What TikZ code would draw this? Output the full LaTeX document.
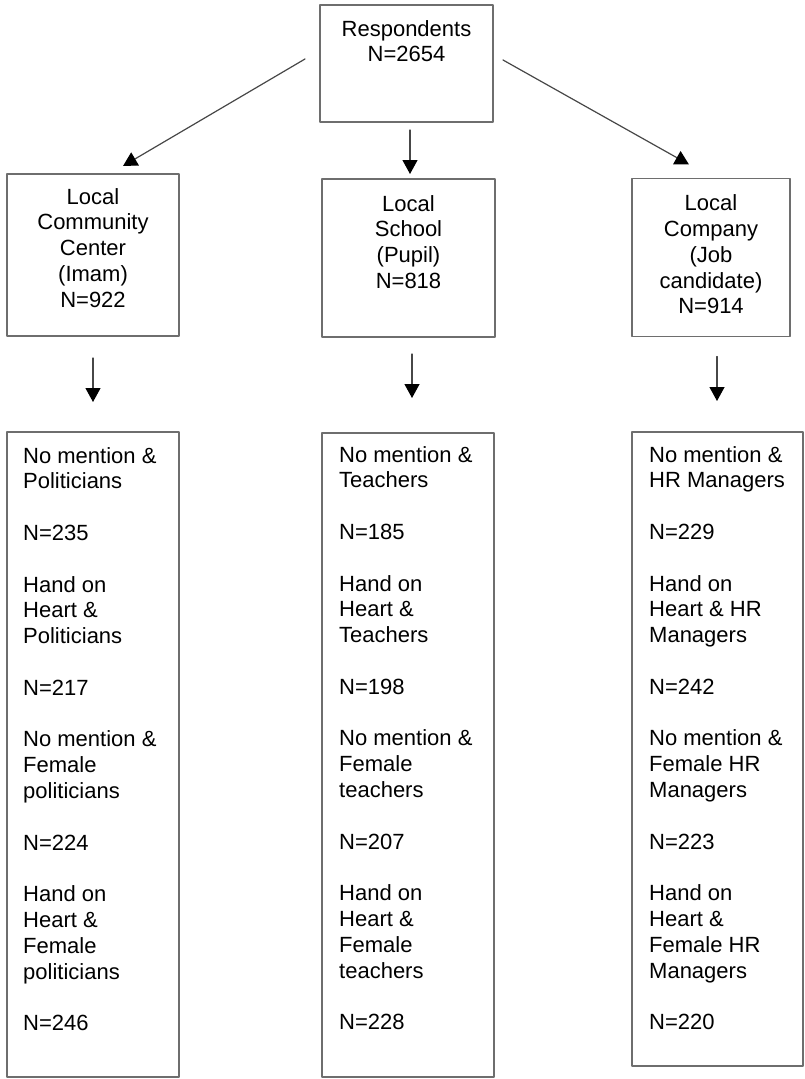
\documentclass[tikz,border=0pt]{standalone}
\usepackage{fontspec}
\setmainfont{Liberation Sans}
\usetikzlibrary{arrows.meta}
\definecolor{boxgray}{HTML}{6E6E6E}
\definecolor{arrgray}{HTML}{474747}

\begin{document}
\begin{tikzpicture}[x=1pt, y=-1pt, line cap=round, line join=round,
    box/.style={draw=boxgray, line width=1.4pt, inner sep=0pt, outer sep=0pt},
    txt/.style={inner sep=0pt, font=\fontsize{22}{25.8}\selectfont, text=black},
    arr/.style={draw=arrgray, line width=1.2pt, -{Triangle[width=15pt, length=14pt, black]}}]

    \useasboundingbox (0,0) rectangle (805,1079);

    % top box
    \node[box, minimum width=173, minimum height=117] (resp) at (406.5, 63.5) {};
    \node[txt, anchor=north, align=center] (resptxt) at ([yshift=-15]resp.north) {Respondents\\N=2654};

    % settings
    \node[box, minimum width=172, minimum height=162] (commA) at (93, 255) {};
    \node[box, minimum width=173, minimum height=158] (schA) at (408.5, 258) {};
    \node[box, minimum width=158, minimum height=158] (compA) at (711, 257.5) {};

    \node[txt, anchor=north, align=center] (commtxt) at ([yshift=-14]commA.north) {Local\\Community\\Center\\(Imam)\\N=922};
    \node[txt, anchor=north, align=center] (schtxt) at ([yshift=-16]schA.north) {Local\\School\\(Pupil)\\N=818};
    \node[txt, anchor=north, align=center] (comptxt) at ([yshift=-16]compA.north) {Local\\Company\\(Job\\candidate)\\N=914};

    % conditions
    \node[box, minimum width=172, minimum height=645] (polB) at (93, 754.5) {};
    \node[box, minimum width=172, minimum height=644] (teachB) at (408, 755) {};
    \node[box, minimum width=171, minimum height=634] (hrB) at (717.5, 749) {};

    \node[txt, anchor=north west, align=left] (poltxt) at ([xshift=16, yshift=-15]polB.north west)
        {No mention \&\\Politicians\\[25.8pt]N=235\\[25.8pt]Hand on\\Heart \&\\Politicians\\[25.8pt]N=217\\[25.8pt]%
         No mention \&\\Female\\politicians\\[25.8pt]N=224\\[25.8pt]Hand on\\Heart \&\\Female\\politicians\\[25.8pt]N=246};
    \node[txt, anchor=north west, align=left] (teachtxt) at ([xshift=17, yshift=-13]teachB.north west)
        {No mention \&\\Teachers\\[25.8pt]N=185\\[25.8pt]Hand on\\Heart \&\\Teachers\\[25.8pt]N=198\\[25.8pt]%
         No mention \&\\Female\\teachers\\[25.8pt]N=207\\[25.8pt]Hand on\\Heart \&\\Female\\teachers\\[25.8pt]N=228};
    \node[txt, anchor=north west, align=left] (hrtxt) at ([xshift=17, yshift=-14]hrB.north west)
        {No mention \&\\HR Managers\\[25.8pt]N=229\\[25.8pt]Hand on\\Heart \& HR\\Managers\\[25.8pt]N=242\\[25.8pt]%
         No mention \&\\Female HR\\Managers\\[25.8pt]N=223\\[25.8pt]Hand on\\Heart \&\\Female HR\\Managers\\[25.8pt]N=220};

    % arrows
    \draw[arr] ([xshift=-15, yshift=4.5]resp.west) -- ([xshift=30, yshift=8]commA.north);
    \draw[arr] ([xshift=3.5, yshift=-8]resp.south) -- ([xshift=1.5, yshift=5]schA.north);
    \draw[arr] ([xshift=10, yshift=3.5]resp.east) -- ([xshift=-22, yshift=14]compA.north);

    \draw[arr] ([yshift=-22]commA.south) -- ([yshift=30]polB.north);
    \draw[arr] ([xshift=3.5, yshift=-17]schA.south) -- ([xshift=4, yshift=35]teachB.north);
    \draw[arr] ([xshift=6, yshift=-20]compA.south) -- ([xshift=-0.5, yshift=31]hrB.north);

\end{tikzpicture}
\end{document}
